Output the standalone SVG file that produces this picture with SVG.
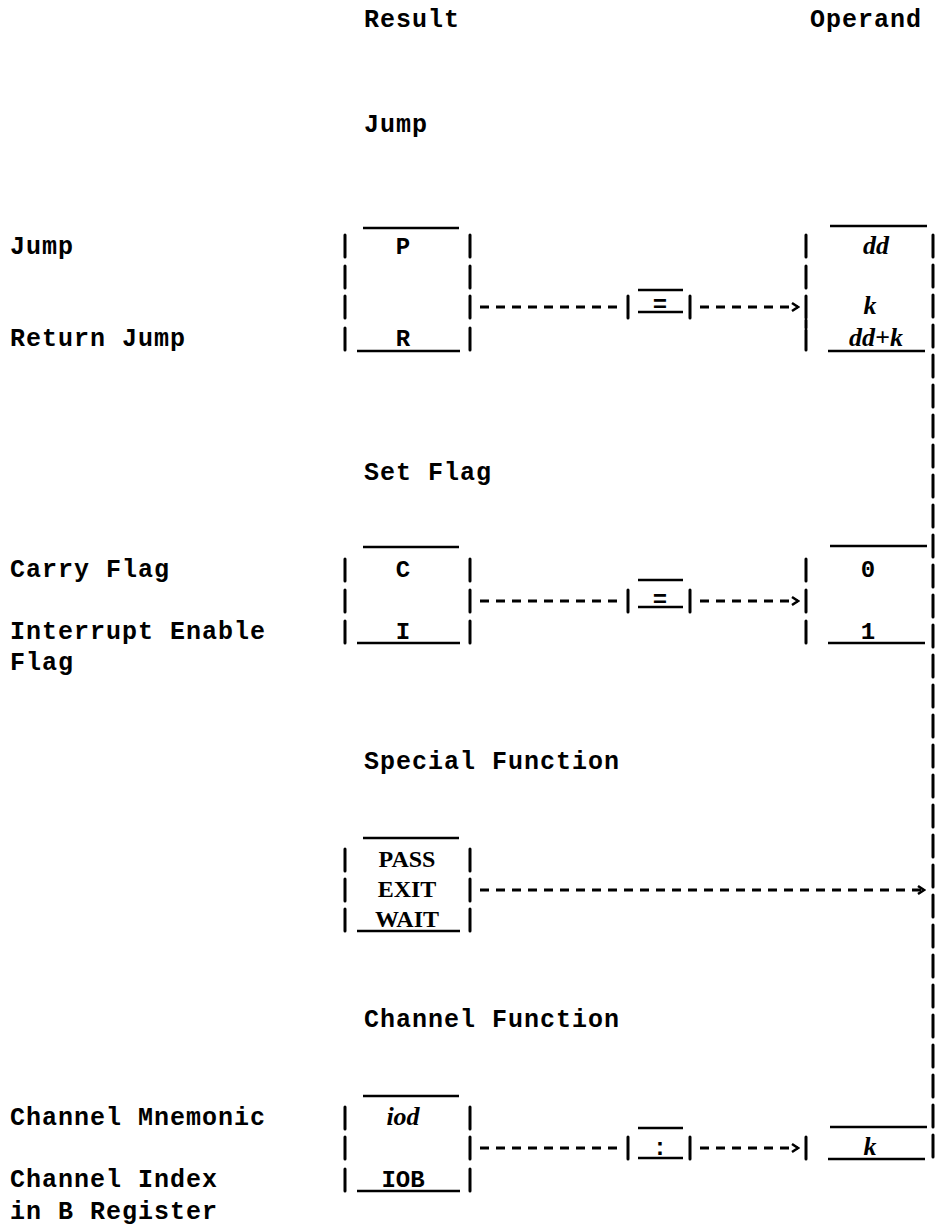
<svg xmlns="http://www.w3.org/2000/svg" width="935" height="1228" viewBox="0 0 935 1228">
<style>
.t{font-family:"Liberation Mono",monospace;font-weight:bold;font-size:25px;letter-spacing:1px;fill:#000}
.m{font-family:"Liberation Mono",monospace;font-weight:bold;font-size:24px;fill:#000;text-anchor:middle}
.s{font-family:"Liberation Serif",serif;font-weight:bold;font-size:24px;fill:#000;text-anchor:middle}
.it{font-family:"Liberation Serif",serif;font-weight:bold;font-style:italic;font-size:26px;fill:#000;text-anchor:middle}
.bar{stroke:#000;stroke-width:3;stroke-linecap:round;fill:none}
.ln{stroke:#000;stroke-width:2.5;fill:none}
.dash{stroke:#000;stroke-width:3;stroke-dasharray:9 7;fill:none}
</style>
<defs>
<marker id="arr" markerWidth="10" markerHeight="12" refX="8" refY="6" orient="auto" markerUnits="userSpaceOnUse">
<path d="M2,2 L8,6 L2,10" fill="none" stroke="#000" stroke-width="2.5"/>
</marker>
</defs>
<g id="headers">
<text class="t" x="364" y="27">Result</text>
<text class="t" x="810" y="27">Operand</text>
<text class="t" x="364" y="132">Jump</text>
<text class="t" x="364" y="480">Set Flag</text>
<text class="t" x="364" y="769">Special Function</text>
<text class="t" x="364" y="1027">Channel Function</text>
</g>
<g id="labels">
<text class="t" x="10" y="254">Jump</text>
<text class="t" x="10" y="346">Return Jump</text>
<text class="t" x="10" y="577">Carry Flag</text>
<text class="t" x="10" y="639">Interrupt Enable</text>
<text class="t" x="10" y="670">Flag</text>
<text class="t" x="10" y="1125">Channel Mnemonic</text>
<text class="t" x="10" y="1187">Channel Index</text>
<text class="t" x="10" y="1219">in B Register</text>
</g>
<g id="jump-result">
<path class="ln" d="M363,228 H459 M357,351 H460"/>
<path class="bar" d="M345,235 V257 M345,266 V288 M345,296 V318 M345,328 V350 M470,235 V257 M470,266 V288 M470,296 V318 M470,328 V350"/>
<text class="m" x="403" y="254">P</text>
<text class="m" x="403" y="346">R</text>
</g>
<g id="jump-eq">
<path class="ln" d="M638,290 H683 M638,312 H683"/>
<path class="bar" d="M628,296 V318 M690,296 V318"/>
<text class="m" x="660" y="312">=</text>
</g>
<g id="jump-operand">
<path class="ln" d="M830,226 H927 M828,351 H925"/>
<path class="bar" d="M806,235 V257 M806,266 V288 M806,296 V318 M806,320 V328 M806,330 V350"/>
<text class="it" x="876" y="254">dd</text>
<text class="it" x="870" y="314">k</text>
<text class="it" x="876" y="346">dd+k</text>
</g>
<g id="flag-result">
<path class="ln" d="M363,547 H459 M357,643 H460"/>
<path class="bar" d="M345,559 V581 M345,590 V612 M345,621 V643 M470,559 V581 M470,590 V612 M470,621 V643"/>
<text class="m" x="403" y="577">C</text>
<text class="m" x="403" y="639">I</text>
</g>
<g id="flag-eq">
<path class="ln" d="M638,580 H683 M638,607 H683"/>
<path class="bar" d="M628,590 V612 M690,590 V612"/>
<text class="m" x="660" y="607">=</text>
</g>
<g id="flag-operand">
<path class="ln" d="M830,546 H927 M828,643 H925"/>
<path class="bar" d="M806,559 V581 M806,590 V612 M806,621 V643"/>
<text class="m" x="868" y="577">0</text>
<text class="m" x="868" y="639">1</text>
</g>
<g id="special-result">
<path class="ln" d="M363,838 H459 M357,931 H460"/>
<path class="bar" d="M345,849 V871 M345,879 V901 M345,909 V931 M470,849 V871 M470,879 V901 M470,909 V931"/>
<text class="s" x="407" y="867">PASS</text>
<text class="s" x="407" y="897">EXIT</text>
<text class="s" x="407" y="927">WAIT</text>
</g>
<g id="channel-result">
<path class="ln" d="M363,1096 H459 M357,1191 H460"/>
<path class="bar" d="M345,1107 V1129 M345,1137 V1159 M345,1169 V1191 M470,1107 V1129 M470,1137 V1159 M470,1169 V1191"/>
<text class="it" x="403" y="1125">iod</text>
<text class="m" x="403" y="1187">IOB</text>
</g>
<g id="channel-colon">
<path class="ln" d="M638,1128 H683 M638,1158 H683"/>
<path class="bar" d="M628,1137 V1159 M690,1137 V1159"/>
<text class="m" x="660" y="1155">:</text>
</g>
<g id="channel-operand">
<path class="ln" d="M830,1127 H927 M828,1159 H925"/>
<path class="bar" d="M806,1137 V1159"/>
<text class="it" x="870" y="1155">k</text>
</g>
<g id="operand-rail">
<path class="bar" d="M933,235 V1159" style="stroke-dasharray:22 8"/>
</g>
<g id="connectors">
<path class="dash" d="M480,307 H622"/>
<path class="dash" d="M700,307 H798" marker-end="url(#arr)"/>
<path class="dash" d="M480,601 H622"/>
<path class="dash" d="M700,601 H798" marker-end="url(#arr)"/>
<path class="dash" d="M480,890 H924" marker-end="url(#arr)"/>
<path class="dash" d="M480,1148 H622"/>
<path class="dash" d="M700,1148 H798" marker-end="url(#arr)"/>
</g>
</svg>
